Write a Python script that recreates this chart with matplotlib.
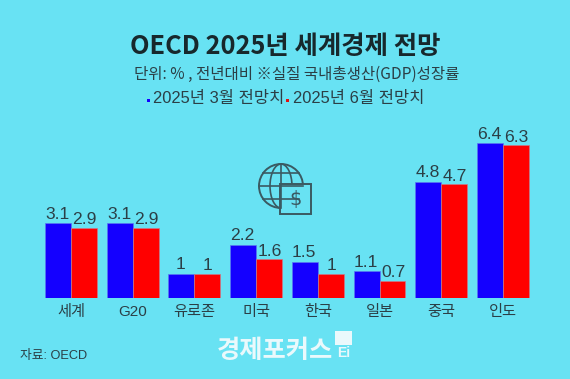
import matplotlib
matplotlib.use('Agg')
import matplotlib.pyplot as plt
from matplotlib.patches import Circle, Ellipse, Rectangle
from matplotlib.transforms import Affine2D

plt.rcParams['font.family'] = ['Liberation Sans', 'Noto Sans CJK KR', 'DejaVu Sans']
kr = ['Noto Sans CJK KR', 'DejaVu Sans']

# data
countries = ['세계', 'G20', '유로존', '미국', '한국', '일본', '중국', '인도']
march = [3.1, 3.1, 1, 2.2, 1.5, 1.1, 4.8, 6.4]
june = [2.9, 2.9, 1, 1.6, 1, 0.7, 4.7, 6.3]
march_labels = ['3.1', '3.1', '1', '2.2', '1.5', '1.1', '4.8', '6.4']
june_labels = ['2.9', '2.9', '1', '1.6', '1', '0.7', '4.7', '6.3']

W, H = 570, 379
bg = '#68E2F3'
ink = '#2B3F46'

fig = plt.figure(figsize=(W / 100, H / 100), dpi=100, facecolor=bg)
# pixel coordinates, origin top left, for the text and the icon
px = Affine2D().scale(1, -1).translate(0, H)

ax = fig.add_axes([40 / W, (H - 298) / H, 492 / W, 168 / H])
ax.set_facecolor('none')
width = 0.42
xs = list(range(len(countries)))
ax.bar([x - width / 2 for x in xs], march, width, color='#1400FF', edgecolor='#5A78F0', linewidth=0.5)
ax.bar([x + width / 2 for x in xs], june, width, color='#FF0000', edgecolor='#C87A8A', linewidth=0.5)
ax.set_xlim(-0.502, 7.47)
ax.set_ylim(0, 6.94)
for x, a, b, la, lb in zip(xs, march, june, march_labels, june_labels):
    ax.annotate(la, (x - width / 2 - 0.01, a), xytext=(0, 1), textcoords='offset points', ha='center', va='bottom',
                fontsize=12.6, color=ink)
    ax.annotate(lb, (x + width / 2 + 0.01, b), xytext=(0, 0.5), textcoords='offset points', ha='center', va='bottom',
                fontsize=12.6, color=ink)
ax.set_xticks(xs)
ax.set_xticklabels(countries, fontsize=11, color=ink, family=['Liberation Sans'] + kr)
ax.tick_params(axis='x', length=0, pad=5)
ax.set_yticks([])
for s in ax.spines.values():
    s.set_visible(False)

fig.text(285.5, 47, 'OECD 2025년 세계경제 전망', transform=px, ha='center', va='center', fontsize=18.3,
         fontweight='bold', color='#17282C', family=kr)
fig.text(297, 74.5, '단위: % , 전년대비 ※실질 국내총생산(GDP)성장률', transform=px, ha='center', va='center',
         fontsize=11.2, color=ink, family=kr)
fig.text(153, 99, '2025년 3월 전망치', transform=px, ha='left', va='center', fontsize=11.9, color=ink)
fig.text(293, 99, '2025년 6월 전망치', transform=px, ha='left', va='center', fontsize=11.9, color=ink)
fig.add_artist(Rectangle((147, 99), 3, 3, transform=px, color='#1400FF', lw=0))
fig.add_artist(Rectangle((286, 99), 3, 3, transform=px, color='#E01010', lw=0))
fig.text(20, 356, '자료: OECD', transform=px, ha='left', va='center', fontsize=9.2, color=ink)

# globe and dollar icon
icon = '#3A5A62'
fig.add_artist(Circle((281, 186), 22, transform=px, fc='none', ec=icon, lw=1.4))
fig.add_artist(Ellipse((281, 186), 22, 44, transform=px, fc='none', ec=icon, lw=1.2))
fig.add_artist(plt.Line2D([281, 281], [164, 208], transform=px, color=icon, lw=1.2))
fig.add_artist(plt.Line2D([259, 303], [186, 186], transform=px, color=icon, lw=1.2))
fig.add_artist(plt.Line2D([263, 299], [173, 173], transform=px, color=icon, lw=1.2))
fig.add_artist(plt.Line2D([263, 299], [199, 199], transform=px, color=icon, lw=1.2))
fig.add_artist(Rectangle((280, 184), 31, 30, transform=px, fc=bg, ec=icon, lw=1.4))
fig.text(295.5, 199, '$', transform=px, ha='center', va='center', fontsize=14, color=icon,
         family=['DejaVu Sans'], parse_math=False)

# logo
fig.text(275, 350, '경제포커스', transform=px, ha='center', va='center', fontsize=18.2, fontweight='bold',
         color='#EAF9FC', family=kr)
fig.add_artist(Rectangle((335, 331), 17, 14, transform=px, fc='#EAF9FC', lw=0))
fig.text(343.5, 353, 'Ei', transform=px, ha='center', va='center', fontsize=10, fontweight='bold', color='#EAF9FC')

fig.savefig('out.png', dpi=100, facecolor=bg)
